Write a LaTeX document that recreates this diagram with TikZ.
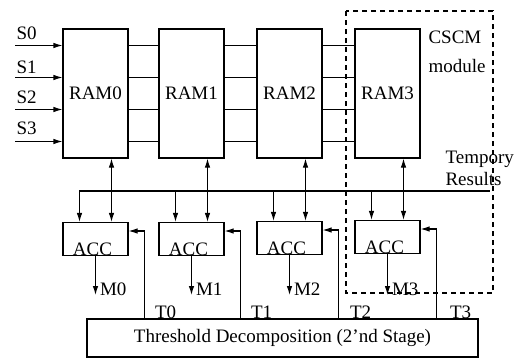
\documentclass[tikz,border=0pt]{standalone}
\usepackage{fontspec}
\setmainfont{Liberation Serif}
\usetikzlibrary{arrows.meta}

\begin{document}
\begin{tikzpicture}[x=1pt,y=-1pt,line width=1.1pt,
  >={Latex[length=9pt,width=5.5pt]},
  every node/.style={font=\fontsize{19}{21}\selectfont},
  rambox/.style={draw,minimum width=65pt,minimum height=129pt,inner sep=0pt},
  accbox/.style={draw,minimum width=65pt,minimum height=33pt,inner sep=0pt},
  txt/.style={inner sep=0pt,anchor=base west}]
  \useasboundingbox (0,0) rectangle (516,359);

  % memories
  \node[rambox] (ram0) at (95.5,93.5)  {RAM0};
  \node[rambox] (ram1) at (191.5,93.5) {RAM1};
  \node[rambox] (ram2) at (289.5,93.5) {RAM2};
  \node[rambox] (ram3) at (387.5,93.5) {RAM3};
  \foreach \dy in {48,16,-16,-48} {
    \draw ([yshift=\dy pt]ram0.east) -- ([yshift=\dy pt]ram1.west);
    \draw ([yshift=\dy pt]ram1.east) -- ([yshift=\dy pt]ram2.west);
    \draw ([yshift=\dy pt]ram2.east) -- ([yshift=\dy pt]ram3.west);
  }

  % inputs
  \coordinate (s0) at (15,45.5);
  \coordinate (s1) at (15,77.5);
  \coordinate (s2) at (15,109.5);
  \coordinate (s3) at (15,141.5);
  \draw[->] (s0) -- (s0 -| ram0.west);
  \draw[->] (s1) -- (s1 -| ram0.west);
  \draw[->] (s2) -- (s2 -| ram0.west);
  \draw[->] (s3) -- (s3 -| ram0.west);
  \node[txt] (s0l) at ([xshift=1pt,yshift=6pt]s0) {S0};
  \node[txt] (s1l) at ([xshift=1pt,yshift=4pt]s1) {S1};
  \node[txt] (s2l) at ([xshift=1pt,yshift=6pt]s2) {S2};
  \node[txt] (s3l) at ([xshift=1pt,yshift=7pt]s3) {S3};

  % accumulators
  \node[accbox] (acc0) at (95.5,239)  {};
  \node[accbox] (acc1) at (191.5,239) {};
  \node[accbox] (acc2) at (289.5,238) {};
  \node[accbox] (acc3) at (387.5,237) {};
  \node[inner sep=0pt,anchor=base] (a0l) at ([xshift=-3pt,yshift=1pt]acc0.south) {ACC};
  \node[inner sep=0pt,anchor=base] (a1l) at ([xshift=-3pt,yshift=1pt]acc1.south) {ACC};
  \node[inner sep=0pt,anchor=base] (a2l) at ([xshift=-3pt,yshift=1pt]acc2.south) {ACC};
  \node[inner sep=0pt,anchor=base] (a3l) at ([xshift=-3pt,yshift=1pt]acc3.south) {ACC};

  % temporary results bus
  \coordinate (busL) at (79,191);
  \coordinate (busR) at (490,191);
  \draw (busL) -- (busR);
  \draw[->] ([xshift=-16pt]acc0.north |- busL) -- ([xshift=-16pt]acc0.north);
  \draw[->] ([xshift=-16pt]acc1.north |- busL) -- ([xshift=-16pt]acc1.north);
  \draw[->] ([xshift=-16pt]acc2.north |- busL) -- ([xshift=-16pt]acc2.north);
  \draw[->] ([xshift=-16pt]acc3.north |- busL) -- ([xshift=-16pt]acc3.north);
  \draw[<->] ([xshift=16pt]acc0.north) -- ([xshift=16pt]ram0.south);
  \draw[<->] ([xshift=16pt]acc1.north) -- ([xshift=16pt]ram1.south);
  \draw[<->] ([xshift=16pt]acc2.north) -- ([xshift=16pt]ram2.south);
  \draw[<->] ([xshift=16pt]acc3.north) -- ([xshift=16pt]ram3.south);

  % outputs
  \draw[->] (acc0.south) -- ++(0,39) coordinate (m0);
  \draw[->] (acc1.south) -- ++(0,39) coordinate (m1);
  \draw[->] (acc2.south) -- ++(0,40) coordinate (m2);
  \draw[->] (acc3.south) -- ++(0,41) coordinate (m3);
  \node[txt] (m0l) at ([xshift=4pt]m0) {M0};
  \node[txt] (m1l) at ([xshift=4pt]m1) {M1};
  \node[txt] (m2l) at ([xshift=4pt]m2) {M2};
  \node[txt] (m3l) at ([xshift=4pt]m3) {M3};

  % second stage
  \node[draw,minimum width=391pt,minimum height=38pt,inner sep=0pt] (th)
    at (282.5,338) {Threshold Decomposition (2'nd Stage)};
  \draw[->] ([xshift=16pt]th.north -| acc0.east) |- ([yshift=8pt]acc0.east);
  \draw[->] ([xshift=16pt]th.north -| acc1.east) |- ([yshift=8pt]acc1.east);
  \draw[->] ([xshift=16pt]th.north -| acc2.east) |- ([yshift=8pt]acc2.east);
  \draw[->] ([xshift=16pt]th.north -| acc3.east) |- ([yshift=8pt]acc3.east);
  \node[txt] (t0) at ([xshift=26pt]th.north -| acc0.east) {T0};
  \node[txt] (t1) at ([xshift=26pt]th.north -| acc1.east) {T1};
  \node[txt] (t2) at ([xshift=27pt]th.north -| acc2.east) {T2};
  \node[txt] (t3) at ([xshift=29pt]th.north -| acc3.east) {T3};

  % CSCM module
  \draw[dash pattern=on 5pt off 4pt] (346,11) rectangle (493,293);
  \node[txt] (cscm) at (428,43) {CSCM};
  \node[txt] (module) at (428,72) {module};
  \node[txt] (tmp) at (445,163) {Tempory};
  \node[txt] (res) at (445,185) {Results};
\end{tikzpicture}
\end{document}
